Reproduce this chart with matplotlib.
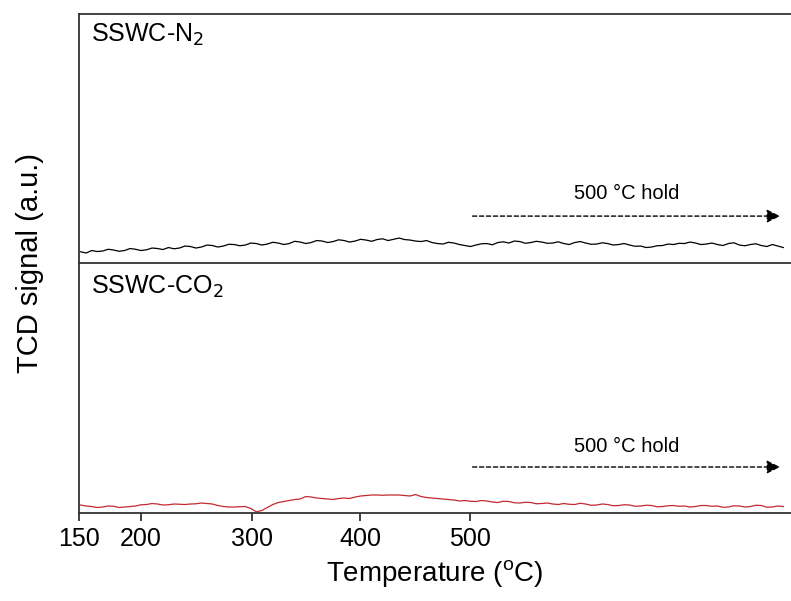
import matplotlib
matplotlib.use("Agg")
import matplotlib.pyplot as plt

plt.rcParams['font.family'] = ['Liberation Sans', 'DejaVu Sans']

# x positions (temperature-equivalent scale; the part past 500 is the isothermal hold)
x = list(range(145, 790, 5))

n2_signal = [0.045, 0.040, 0.050, 0.046, 0.048, 0.055, 0.052, 0.047, 0.050, 0.058,
             0.055, 0.050, 0.053, 0.060, 0.058, 0.054, 0.062, 0.057, 0.060, 0.068,
             0.066, 0.060, 0.064, 0.072, 0.070, 0.064, 0.068, 0.075, 0.074, 0.069,
             0.072, 0.080, 0.078, 0.072, 0.076, 0.083, 0.080, 0.074, 0.078, 0.087,
             0.084, 0.078, 0.082, 0.090, 0.088, 0.082, 0.086, 0.093, 0.090, 0.084,
             0.088, 0.095, 0.092, 0.087, 0.094, 0.097, 0.090, 0.095, 0.100, 0.094,
             0.092, 0.088, 0.086, 0.090, 0.082, 0.078, 0.076, 0.083, 0.080, 0.074,
             0.070, 0.066, 0.072, 0.077, 0.078, 0.073, 0.082, 0.085, 0.080, 0.088,
             0.086, 0.079, 0.082, 0.087, 0.084, 0.079, 0.080, 0.085, 0.078, 0.074,
             0.082, 0.086, 0.080, 0.075, 0.076, 0.081, 0.078, 0.072, 0.074, 0.078,
             0.072, 0.067, 0.068, 0.062, 0.064, 0.069, 0.070, 0.076, 0.074, 0.079,
             0.078, 0.084, 0.080, 0.074, 0.076, 0.080, 0.074, 0.070, 0.078, 0.081,
             0.072, 0.069, 0.074, 0.077, 0.070, 0.066, 0.074, 0.068, 0.062]

co2_signal = [0.032, 0.028, 0.026, 0.022, 0.024, 0.028, 0.027, 0.022, 0.024, 0.026,
              0.028, 0.033, 0.034, 0.038, 0.036, 0.032, 0.033, 0.036, 0.035, 0.034,
              0.036, 0.037, 0.040, 0.038, 0.036, 0.030, 0.026, 0.024, 0.024, 0.025,
              0.026, 0.018, 0.005, 0.010, 0.022, 0.034, 0.042, 0.046, 0.050, 0.054,
              0.056, 0.066, 0.064, 0.060, 0.058, 0.056, 0.054, 0.058, 0.060, 0.058,
              0.064, 0.068, 0.070, 0.072, 0.072, 0.071, 0.072, 0.072, 0.072, 0.070,
              0.068, 0.074, 0.066, 0.062, 0.060, 0.058, 0.056, 0.054, 0.052, 0.048,
              0.050, 0.047, 0.046, 0.050, 0.048, 0.044, 0.042, 0.047, 0.046, 0.041,
              0.040, 0.043, 0.042, 0.037, 0.038, 0.040, 0.036, 0.034, 0.038, 0.035,
              0.034, 0.039, 0.036, 0.031, 0.032, 0.036, 0.034, 0.029, 0.030, 0.033,
              0.032, 0.027, 0.028, 0.031, 0.030, 0.025, 0.026, 0.029, 0.030, 0.027,
              0.028, 0.024, 0.026, 0.030, 0.030, 0.027, 0.028, 0.023, 0.024, 0.029,
              0.028, 0.024, 0.026, 0.031, 0.030, 0.023, 0.024, 0.028, 0.026]

tick_pos = [143.5, 200, 301, 399.5, 500]
tick_labels = ['150', '200', '300', '400', '500']

panel_labels = ['SSWC-N$_2$', 'SSWC-CO$_2$']
hold_text = '500 °C hold'
hold_start, hold_end = 502, 782

fig = plt.figure(figsize=(7.91, 6.01), dpi=100)
ax1 = fig.add_axes([0.0999, 0.5624, 0.9001, 0.4151])
ax2 = fig.add_axes([0.0999, 0.1464, 0.9001, 0.4160], sharex=ax1)

spine_col = '#333333'
for ax in (ax1, ax2):
    ax.set_xlim(143.5, 792)
    ax.set_ylim(0, 1)
    ax.spines['right'].set_visible(False)
    for s in ('left', 'top', 'bottom'):
        ax.spines[s].set_color(spine_col)
        ax.spines[s].set_linewidth(1.3)
    ax.set_yticks([])

ax1.spines['bottom'].set_visible(False)
ax1.tick_params(axis='x', which='both', bottom=False, labelbottom=False)

ax1.plot(x, n2_signal, color='black', lw=0.9)
ax2.plot(x, co2_signal, color='#c42a30', lw=0.9)

ax2.set_xticks(tick_pos)
ax2.set_xticklabels(tick_labels)
ax2.tick_params(axis='x', direction='out', length=6, width=1.3, color=spine_col,
                labelsize=18, pad=4)
ax2.set_xlabel('Temperature ($\\mathregular{^{o}}$C)', fontsize=20, labelpad=5)

ax1.text(0.017, 0.915, panel_labels[0], transform=ax1.transAxes, fontsize=18,
         ha='left', va='center')
ax2.text(0.017, 0.905, panel_labels[1], transform=ax2.transAxes, fontsize=18,
         ha='left', va='center')

for ax, ya, yt in ((ax1, 0.188, 0.28), (ax2, 0.184, 0.266)):
    ax.annotate('', xy=(hold_end, ya), xytext=(hold_start, ya),
                arrowprops=dict(arrowstyle='-|>', linestyle=(0, (3, 2)), color='black',
                                lw=1.0, mutation_scale=20, shrinkA=0, shrinkB=0))
    ax.text(642, yt, hold_text, fontsize=14.5, ha='center', va='center')

fig.text(30 / 791, 1 - 263 / 601, 'TCD signal (a.u.)', rotation=90, fontsize=21,
         ha='center', va='center')

fig.savefig('out.png', dpi=100)
